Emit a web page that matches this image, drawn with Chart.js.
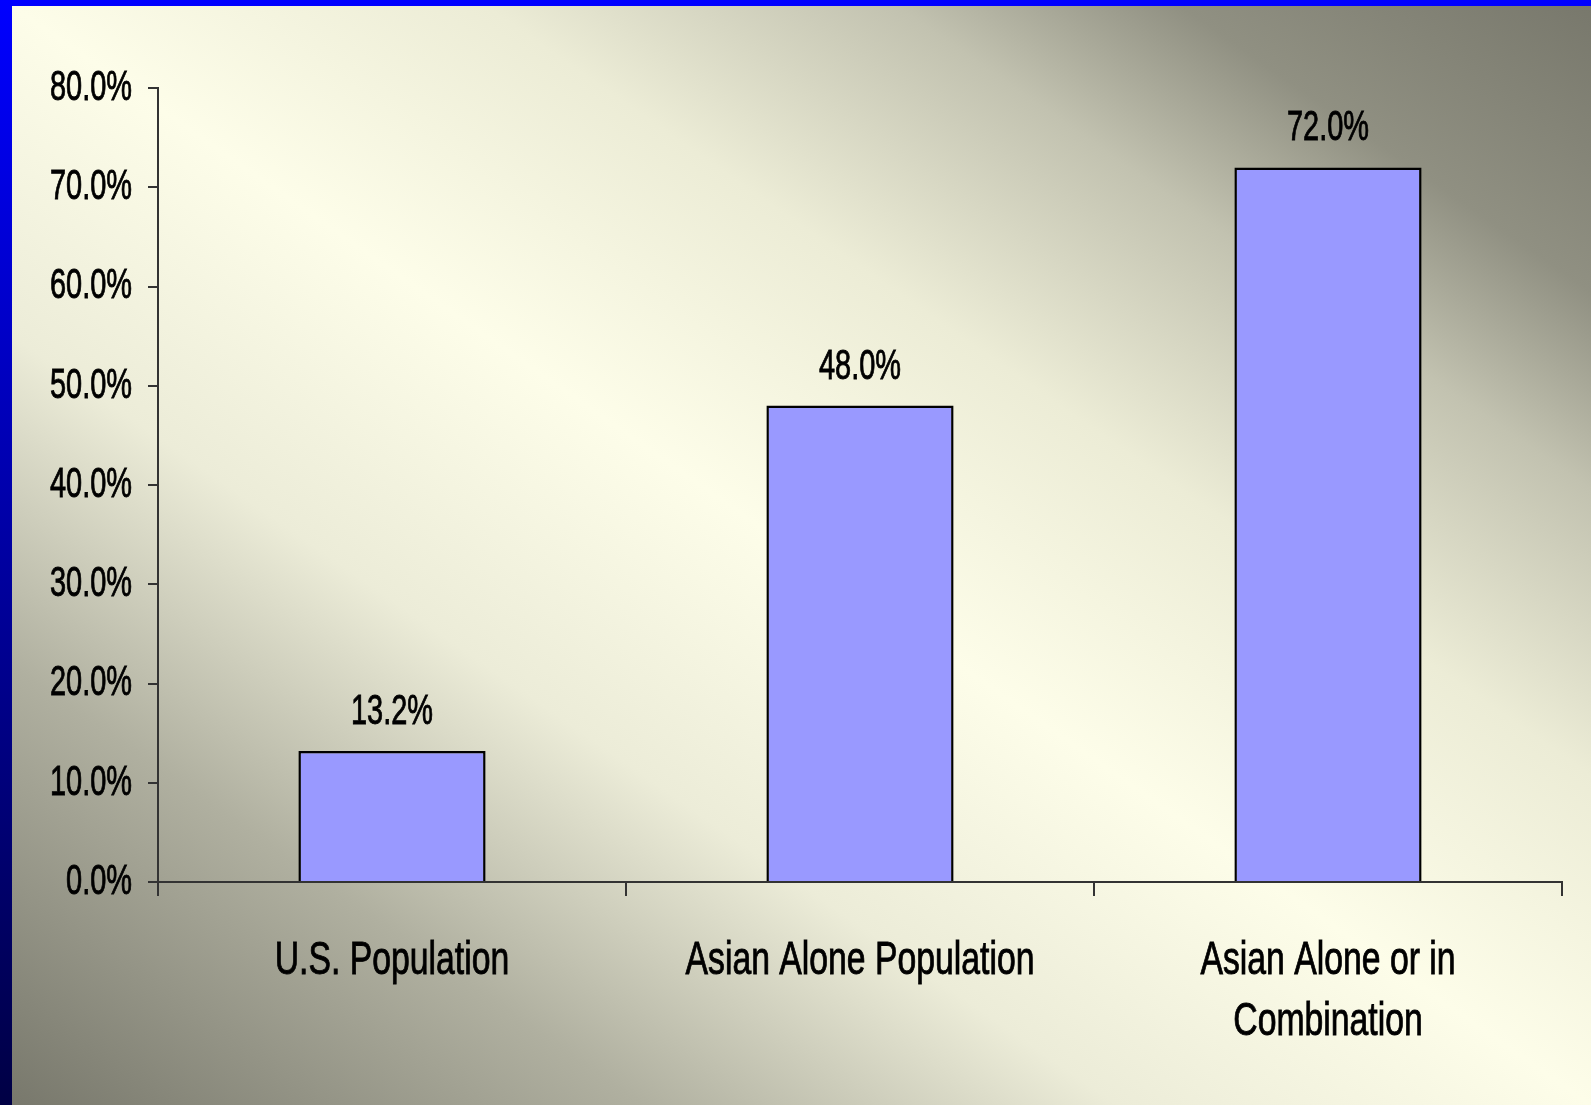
<!DOCTYPE html>
<html>
<head>
<meta charset="utf-8">
<script src="https://cdn.jsdelivr.net/npm/chart.js"></script>
<style>
  html, body { margin: 0; padding: 0; }
  body {
    width: 1591px; height: 1105px; overflow: hidden;
    background: linear-gradient(to bottom, #0000ff, #000044);
  }
  #wrap {
    position: absolute; left: 12px; top: 6px; width: 1579px; height: 1099px;
    background: linear-gradient(to bottom left,
      #78786c 0%, #909082 13%, #c2c2b0 22%, #ececd6 35%, #fdfde9 50%,
      #ececd8 65%, #b0b0a0 80%, #78786c 100%);
  }
</style>
</head>
<body>
<div id="wrap"><canvas id="myChart"></canvas></div>
<script>
const categories = ['U.S. Population', 'Asian Alone Population', ['Asian Alone or in', 'Combination']];
const shares = [13.2, 48.0, 72.0];
const yMin = 0, yMax = 80, yStep = 10;

const family = "'Liberation Sans', Arial, sans-serif";

// the original uses a tall, squeezed Arial Narrow look: squeeze glyphs horizontally
const condensed = {
  id: 'condensed',
  beforeInit(chart) {
    const ctx = chart.ctx;
    const plain = ctx.fillText;
    ctx.fillText = function (text, x, y, maxWidth) {
      const sx = this.font.indexOf('47px') >= 0 ? 0.718 : 0.673;
      this.save();
      this.translate(x, y);
      this.scale(sx, 1);
      if (maxWidth === undefined) plain.call(this, text, 0, 0);
      else plain.call(this, text, 0, 0, maxWidth / sx);
      // a touch heavier, like the original
      this.strokeStyle = this.fillStyle;
      this.lineWidth = 0.9;
      this.strokeText(text, 0, 0);
      this.restore();
    };
  }
};

// value labels above each bar
const barLabels = {
  id: 'barLabels',
  afterDatasetsDraw(chart) {
    const ctx = chart.ctx;
    ctx.save();
    ctx.font = '43px ' + family;
    ctx.fillStyle = '#000';
    ctx.textAlign = 'center';
    ctx.textBaseline = 'alphabetic';
    chart.getDatasetMeta(0).data.forEach((bar, i) => {
      ctx.fillText(shares[i].toFixed(1) + '%', bar.x, bar.y - 27);
    });
    ctx.restore();
  }
};

new Chart("myChart", {
  type: "bar",
  data: {
    labels: categories,
    datasets: [{
      data: shares,
      backgroundColor: "#9999ff",
      borderColor: "#000",
      borderWidth: 2.5,
      barPercentage: 0.4,
      categoryPercentage: 1
    }]
  },
  options: {
    responsive: true,
    maintainAspectRatio: false,
    animation: false,
    layout: { padding: { left: 0, top: 82, right: 29, bottom: 0 } },
    plugins: { legend: { display: false }, tooltip: { enabled: false } },
    scales: {
      x: {
        grid: { drawOnChartArea: false, drawTicks: true, tickLength: 14, color: '#333', lineWidth: 2 },
        border: { display: true, color: '#333', width: 2 },
        ticks: { color: '#000', padding: 34, maxRotation: 0, minRotation: 0, autoSkip: false,
                 font: { family: family, size: 47, lineHeight: 1.3 } },
        afterFit: s => { s.height = 223; }
      },
      y: {
        min: yMin, max: yMax,
        grid: { drawOnChartArea: false, drawTicks: true, tickLength: 10, color: '#333', lineWidth: 2 },
        border: { display: true, color: '#333', width: 2 },
        ticks: { stepSize: yStep, color: '#000', padding: 16,
                 font: { family: family, size: 43 },
                 callback: v => v.toFixed(1) + '%' },
        afterFit: s => { s.width = 146; }
      }
    }
  },
  plugins: [condensed, barLabels]
});
</script>
</body>
</html>
